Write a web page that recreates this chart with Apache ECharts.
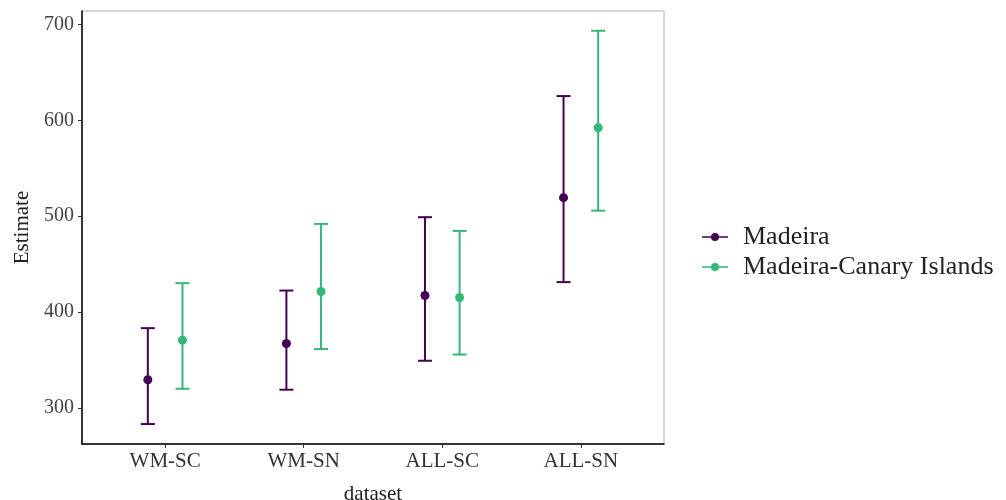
<!DOCTYPE html>
<html>
<head>
<meta charset="utf-8">
<script src="https://cdn.jsdelivr.net/npm/echarts@6/dist/echarts.min.js"></script>
<style>html,body{margin:0;padding:0;background:#fff;}#c{width:1006px;height:500px;}</style>
</head>
<body>
<div id="c"></div>
<script>
const categories = ['WM-SC', 'WM-SN', 'ALL-SC', 'ALL-SN'];
const seriesNames = ['Madeira', 'Madeira-Canary Islands'];
const madeiraEst = [329.5, 367.3, 417.3, 519.4];
const madeiraLow = [283.3, 319.1, 349.3, 431.3];
const madeiraHigh = [383.3, 422.5, 499.0, 625.3];
const canaryEst = [370.8, 421.5, 415.2, 592.3];
const canaryLow = [320.1, 361.5, 355.8, 505.8];
const canaryHigh = [430.2, 492.0, 484.7, 693.4];
const yTicks = [300, 400, 500, 600, 700];

const colors = ['#440154', '#35b779'];
const dodge = 0.125;
const FONT = '"Liberation Serif", "DejaVu Serif", serif';

function errData(low, high, off) {
  return categories.map((c, i) => [i + 1 + off, low[i], high[i]]);
}
function ptData(est, off) {
  return categories.map((c, i) => [i + 1 + off, est[i]]);
}
function renderErr(color) {
  return function (params, api) {
    const x = api.value(0);
    const lo = api.coord([x, api.value(1)]);
    const hi = api.coord([x, api.value(2)]);
    const hw = 7;
    const st = { stroke: color, lineWidth: 2 };
    return {
      type: 'group',
      children: [
        { type: 'line', shape: { x1: lo[0], y1: lo[1], x2: hi[0], y2: hi[1] }, style: st },
        { type: 'line', shape: { x1: lo[0] - hw, y1: lo[1], x2: lo[0] + hw, y2: lo[1] }, style: st },
        { type: 'line', shape: { x1: hi[0] - hw, y1: hi[1], x2: hi[0] + hw, y2: hi[1] }, style: st }
      ]
    };
  };
}
const legendIcon = 'path://M0,4.2 L26,4.2 L26,5.8 L0,5.8 Z M13,1 A4,4 0 1,1 12.99,1 Z';

const chart = echarts.init(document.getElementById('c'));
chart.setOption({
  animation: false,
  backgroundColor: '#ffffff',
  grid: { left: 82, right: 342, top: 11, bottom: 56, show: true, borderColor: '#b0b0b0', borderWidth: 1, containLabel: false, outerBoundsMode: 'none' },
  xAxis: {
    type: 'value', min: 0.4, max: 4.6,
    name: 'dataset', nameLocation: 'middle', nameGap: 40,
    nameTextStyle: { fontFamily: FONT, fontSize: 21, color: '#222' },
    axisLine: { show: true, lineStyle: { color: '#000', width: 1.5 } },
    axisTick: { show: true, length: 4, customValues: [1, 2, 3, 4], lineStyle: { color: '#333' } },
    axisLabel: { customValues: [1, 2, 3, 4], margin: 7, fontFamily: FONT, fontSize: 21, color: '#333',
      formatter: v => categories[Math.round(v) - 1] || '' },
    splitLine: { show: false }
  },
  yAxis: {
    type: 'value', min: 262.5, max: 714,
    name: 'Estimate', nameLocation: 'middle', nameGap: 48, nameRotate: 90,
    nameTextStyle: { fontFamily: FONT, fontSize: 21, color: '#222' },
    axisLine: { show: true, lineStyle: { color: '#000', width: 1.5 } },
    axisTick: { show: true, length: 4, customValues: yTicks, lineStyle: { color: '#333' } },
    axisLabel: { customValues: yTicks, margin: 8, fontFamily: FONT, fontSize: 20, color: '#444' },
    splitLine: { show: false }
  },
  legend: {
    orient: 'vertical', left: 697, top: 219, itemGap: 4, itemWidth: 26, itemHeight: 10,
    textStyle: { fontFamily: FONT, fontSize: 26, color: '#222', padding: [0, 0, 0, 10] },
    data: [
      { name: seriesNames[0], icon: legendIcon, itemStyle: { color: colors[0] } },
      { name: seriesNames[1], icon: legendIcon, itemStyle: { color: colors[1] } }
    ]
  },
  series: [
    { name: seriesNames[0], type: 'custom', renderItem: renderErr(colors[0]), data: errData(madeiraLow, madeiraHigh, -dodge), itemStyle: { color: colors[0] }, encode: { x: 0, y: [1, 2] }, z: 2 },
    { name: seriesNames[1], type: 'custom', renderItem: renderErr(colors[1]), data: errData(canaryLow, canaryHigh, dodge), itemStyle: { color: colors[1] }, encode: { x: 0, y: [1, 2] }, z: 2 },
    { name: seriesNames[0], type: 'scatter', data: ptData(madeiraEst, -dodge), symbolSize: 9, itemStyle: { color: colors[0], opacity: 1 }, z: 3 },
    { name: seriesNames[1], type: 'scatter', data: ptData(canaryEst, dodge), symbolSize: 9, itemStyle: { color: colors[1], opacity: 1 }, z: 3 }
  ]
});
</script>
</body>
</html>
